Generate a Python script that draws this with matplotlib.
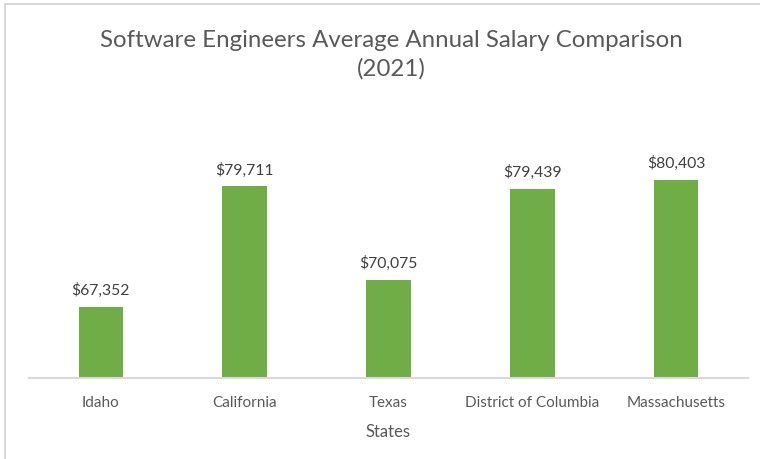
import matplotlib.pyplot as plt
from matplotlib.patches import Rectangle

states = ['Idaho', 'California', 'Texas', 'District of Columbia', 'Massachusetts']
salaries = [67352, 79711, 70075, 79439, 80403]

plt.rcParams['font.family'] = ['Lato', 'DejaVu Sans']

fig = plt.figure(figsize=(7.6, 4.6), dpi=100)
ax = fig.add_axes([29 / 760, 81 / 460, 719 / 760, 243 / 460])

ax.bar(range(len(states)), salaries, width=0.31, color='#70AD47', zorder=2)
for i, v in enumerate(salaries):
    ax.annotate(f'${v:,}', (i, v), xytext=(0, 7), textcoords='offset points',
                ha='center', va='bottom', fontsize=11.3, color='#404040')

ax.set_xlim(-0.5, len(states) - 0.5)
ax.set_ylim(60000, 85000)
ax.set_yticks([])
ax.set_xticks(range(len(states)))
ax.set_xticklabels(states, fontsize=11, color='#595959')
ax.tick_params(axis='x', length=0, pad=12)
for s in ['top', 'right', 'left']:
    ax.spines[s].set_visible(False)
ax.spines['bottom'].set_color('#D9D9D9')
ax.spines['bottom'].set_linewidth(1.5)
ax.set_xlabel('States', fontsize=12, color='#595959', labelpad=10)

fig.text(391 / 760, 1 - 55 / 460, 'Software Engineers Average Annual Salary Comparison\n(2021)',
         ha='center', va='center', fontsize=17.3, color='#595959', linespacing=1.4)

# chart frame edge visible at top and left of the screenshot
fig.patches.append(Rectangle((5 / 760, -0.1), 1.1, 1 - 5 / 460 + 0.1, transform=fig.transFigure,
                             fill=False, edgecolor='#D0D0D0', linewidth=1.2))

fig.savefig('out.png', dpi=100)
